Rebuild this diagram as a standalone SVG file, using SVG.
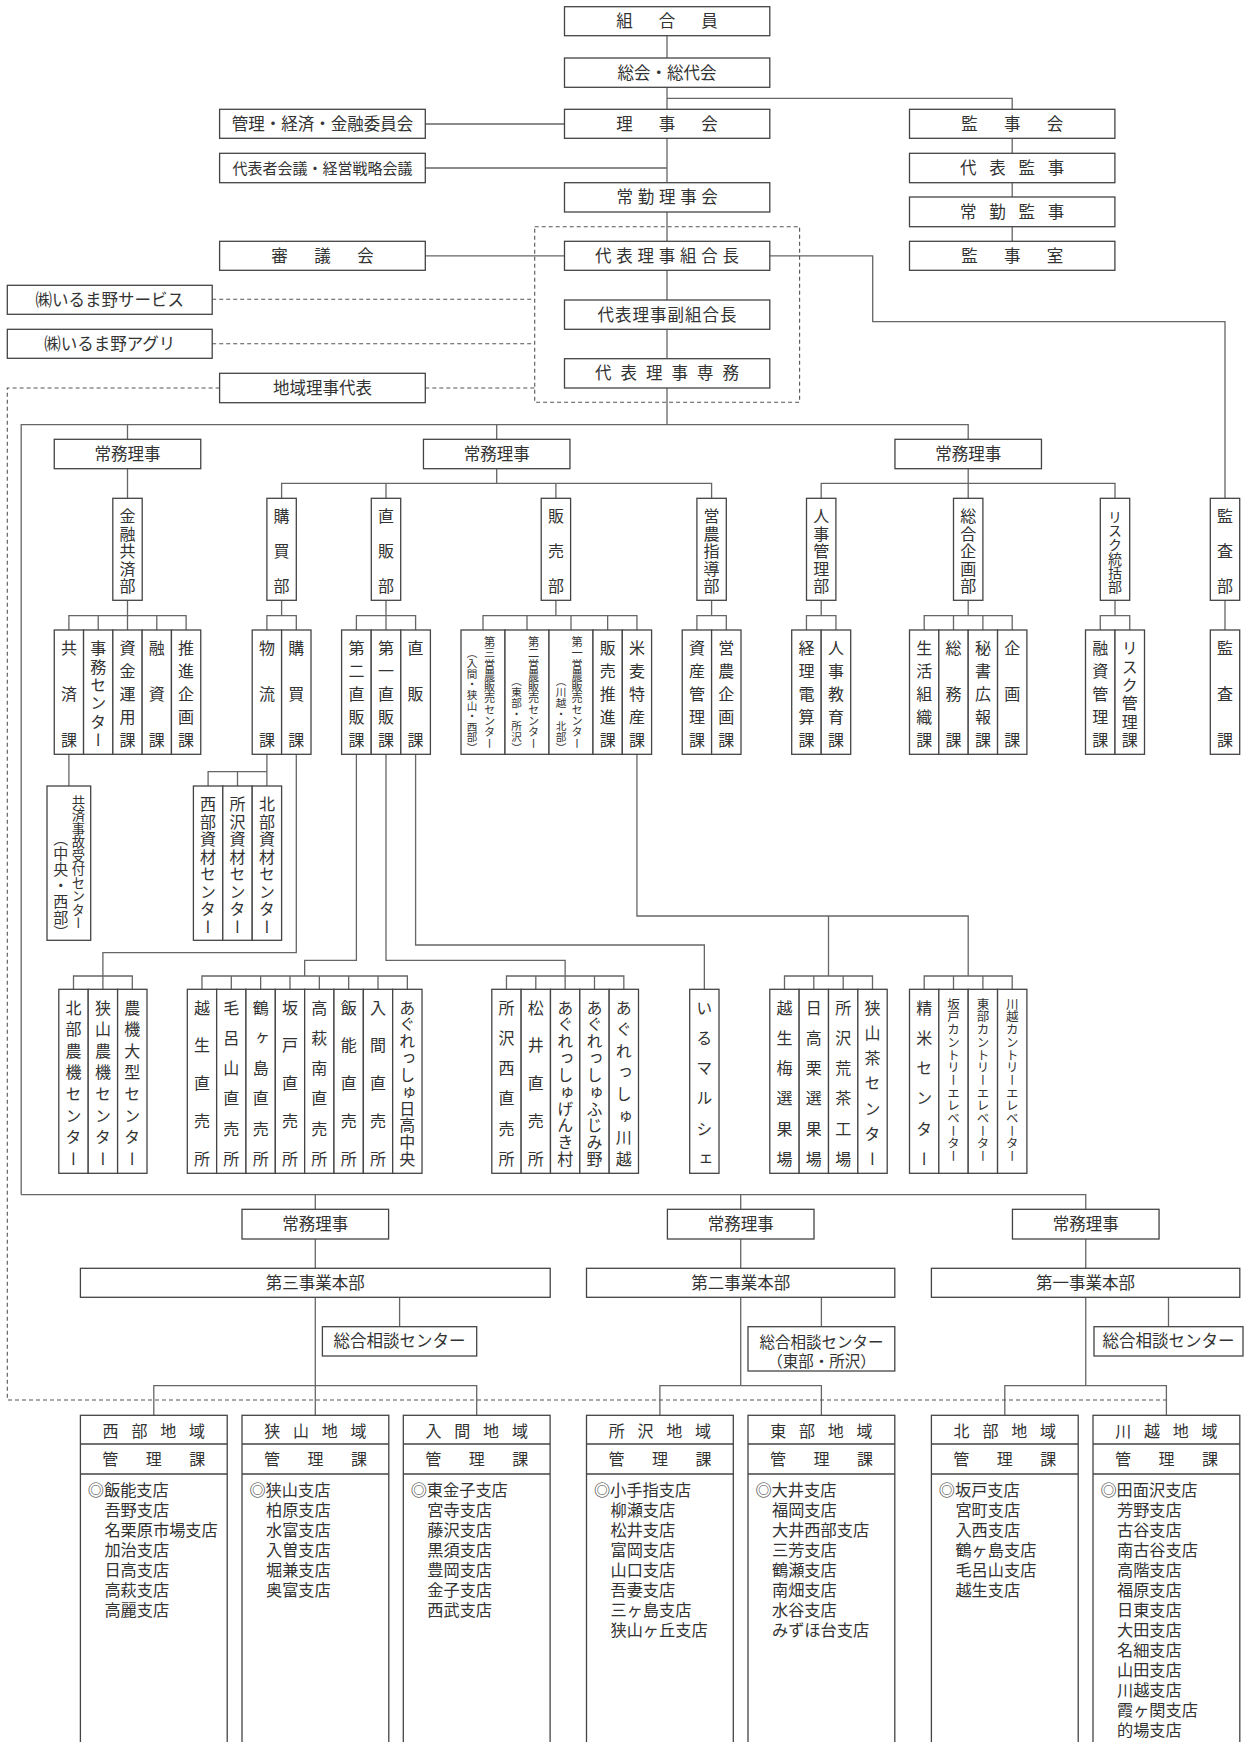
<svg xmlns="http://www.w3.org/2000/svg" width="1248" height="1742" viewBox="0 0 1248 1742">
<style>
.b{fill:#fff;stroke:#444;stroke-width:1.3}
.c{fill:none;stroke:#666;stroke-width:1.3}
.d{fill:none;stroke:#555;stroke-width:1.1;stroke-dasharray:4 3}
text{font-family:"Noto Sans CJK JP","Noto Sans",sans-serif;fill:#333}
.t{font-size:16.5px;text-anchor:middle}
.t2{font-size:15.5px;text-anchor:middle}
.s{font-size:15px;text-anchor:middle}
.h{font-size:16px;text-anchor:middle}
.l{font-size:16.2px}
.v{font-size:16px;writing-mode:vertical-rl;text-anchor:middle}
.v14{font-size:14px;writing-mode:vertical-rl;text-anchor:middle}
.v13{font-size:13.3px;writing-mode:vertical-rl;text-anchor:middle}
.v15{font-size:15px;writing-mode:vertical-rl;text-anchor:middle}
.v12{font-size:11.2px;writing-mode:vertical-rl;text-anchor:middle}
.v11{font-size:10.6px;writing-mode:vertical-rl;text-anchor:middle}
.vc{font-size:12.5px;writing-mode:vertical-rl;text-anchor:middle}
</style>
<rect x="0" y="0" width="1248" height="1742" fill="#fff"/>
<g id="connectors">
<path class="c" d="M667,35.7V58M667,87.3V109.3M667,98.3H1012.2V109.3M667,138.3V182.7M425.3,124H564.5M425.3,168H667M667,212V241.3M425.3,255.8H564.5M667,270.3V300M667,329.3V358.7M1012.2,138.3V153.3M1012.2,182.7V197M1012.2,226.7V241.3M769.8,255.8H872.7V321.7H1225V498.3M667,388V424.7M21.2,1194.7V424.7H968.2V439.3M127.5,424.7V439.3M496.7,424.7V439.3"/>
<path class="c" d="M127.5,468.7V498.3M496.7,468.7V483.3M281.6,498.3V483.3H711.6V498.3M386,483.3V498.3M555.9,483.3V498.3M968.2,468.7V498.3M821.2,498.3V483.3H1115V498.3"/>
<path class="c" d="M127.5,600.3V630M68.9,630V615.7H186.1V630M98.2,615.7V630M156.8,615.7V630M281.6,600.3V615.7M266.9,630V615.7H296.3V630M386,600.3V630M356.4,630V615.7H415.6V630M555.9,600.3V615.7M483,630V615.7H636.95V630M527,615.7V630M571,615.7V630M607.65,615.7V630M711.6,600.3V615.7M696.9,630V615.7H726.3V630M821.2,600.3V615.7M806.45,630V615.7H835.95V630M968.2,600.3V615.7M924.2,630V615.7H1012.2V630M953.5,615.7V630M982.9,615.7V630M1115,600.3V615.7M1100.25,630V615.7H1129.75V630M1225,600.3V630"/>
<path class="c" d="M68.9,754.3V786M266.9,754.3V786M208.1,786V771.7H266.9M237.5,771.7V786M296.3,754.3V952.7H102.9V989.3M73.5,989.3V976H132.3V989.3M356.4,754.3V960.3H304.66V976M201.97,989.3V976H407.35V989.3M231.31,976V989.3M260.65,976V989.3M289.99,976V989.3M319.33,976V989.3M348.67,976V989.3M378.01,976V989.3M386,754.3V960.3H565.15V989.3M506.47,989.3V976H623.83V989.3M535.81,976V989.3M594.49,976V989.3M415.6,754.3V945H704.35V989.3M636.95,754.3V916H968.2V976M828.5,916V976M784.5,989.3V976H872.5V989.3M813.8,976V989.3M843.2,976V989.3M924.2,989.3V976H1012.2V989.3M953.5,976V989.3M982.9,976V989.3"/>
<path class="c" d="M21.2,1194.7H1085.75V1209.3M315.3,1194.7V1209.3M740.7,1194.7V1209.3M315.3,1239V1268.3M740.7,1239V1268.3M1085.75,1239V1268.3M315.3,1297.3V1415.3M399.6,1297.3V1326.7M153.8,1415.3V1385.7H476.7V1415.3M740.7,1297.3V1385.7M821.4,1297.3V1326.7M659.9,1415.3V1385.7H821.4V1415.3M1085.75,1297.3V1385.7M1168.5,1297.3V1326.7M1004.8,1415.3V1385.7H1166.4V1415.3"/>
<path class="d" d="M212.2,299.3H534.7M212.2,343.7H534.7M425.3,388H534.7M219.6,388H7.3V1400H1166.4"/>
<rect class="d" x="534.7" y="226.7" width="264.9" height="175.6"/>
</g>
<g id="n-kumiaiin"><rect class="b" x="564.5" y="6.7" width="205.3" height="29"/><text class="t" x="624.5 667 709.5" y="27.2">組合員</text></g>
<g id="n-sokai"><rect class="b" x="564.5" y="58" width="205.3" height="29.3"/><text class="t" x="667" y="78.6">総会・総代会</text></g>
<g id="n-rijikai"><rect class="b" x="564.5" y="109.3" width="205.3" height="29"/><text class="t" x="624.5 667 709.5" y="129.8">理事会</text></g>
<g id="n-iinkai"><rect class="b" x="219.6" y="109.3" width="205.7" height="29"/><text class="t" x="322.5" y="129.8">管理・経済・金融委員会</text></g>
<g id="n-daihyosha"><rect class="b" x="219.6" y="153.3" width="205.7" height="29.4"/><text class="s" x="322.5" y="173.5">代表者会議・経営戦略会議</text></g>
<g id="n-jokinrijikai"><rect class="b" x="564.5" y="182.7" width="205.3" height="29.3"/><text class="t" x="624.8 646 667.2 688.4 709.6" y="203.3">常勤理事会</text></g>
<g id="n-shingikai"><rect class="b" x="219.6" y="241.3" width="205.7" height="29"/><text class="t" x="279.6 322.5 365.4" y="261.8">審議会</text></g>
<g id="n-kumiaicho"><rect class="b" x="564.5" y="241.3" width="205.3" height="29"/><text class="t" x="603.25 624.5 645.75 667 688.25 709.5 730.75" y="261.8">代表理事組合長</text></g>
<g id="n-service"><rect class="b" x="7.3" y="285.3" width="204.9" height="29"/><text class="t" x="109.75" y="305.8">㈱いるま野サービス</text></g>
<g id="n-fukukumiaicho"><rect class="b" x="564.5" y="300" width="205.3" height="29.3"/><text class="t" x="605.75 623.25 640.75 658.25 675.75 693.25 710.75 728.25" y="320.6">代表理事副組合長</text></g>
<g id="n-agri"><rect class="b" x="7.3" y="329.3" width="204.9" height="29"/><text class="t" x="109.75" y="349.8">㈱いるま野アグリ</text></g>
<g id="n-senmu"><rect class="b" x="564.5" y="358.7" width="205.3" height="29.3"/><text class="t" x="603.25 628.75 654.25 679.75 705.25 730.75" y="379.3">代表理事専務</text></g>
<g id="n-chiiki"><rect class="b" x="219.6" y="373.3" width="205.7" height="29.4"/><text class="t" x="322.5" y="394">地域理事代表</text></g>
<g id="n-kanjikai"><rect class="b" x="909.5" y="109.3" width="205.4" height="29"/><text class="t" x="969.5 1012.2 1054.9" y="129.8">監事会</text></g>
<g id="n-daihyokanji"><rect class="b" x="909.5" y="153.3" width="205.4" height="29.4"/><text class="t" x="968.2 997.5 1026.8 1056.1" y="174">代表監事</text></g>
<g id="n-jokinkanji"><rect class="b" x="909.5" y="197" width="205.4" height="29.7"/><text class="t" x="968.2 997.5 1026.8 1056.1" y="217.8">常勤監事</text></g>
<g id="n-kanjishitsu"><rect class="b" x="909.5" y="241.3" width="205.4" height="29"/><text class="t" x="969.5 1012.2 1054.9" y="261.8">監事室</text></g>

<g id="n-jomu1"><rect class="b" x="54.25" y="439.3" width="146.5" height="29.4"/><text class="t" x="127.5" y="460">常務理事</text></g>
<g id="n-jomu2"><rect class="b" x="423.45" y="439.3" width="146.5" height="29.4"/><text class="t" x="496.7" y="460">常務理事</text></g>
<g id="n-jomu3"><rect class="b" x="894.95" y="439.3" width="146.5" height="29.4"/><text class="t" x="968.2" y="460">常務理事</text></g>

<g id="n-kinyu"><rect class="b" x="112.8" y="498.3" width="29.4" height="102"/><text class="v" x="127.5" y="516.3 533.8 551.3 568.8 586.3">金融共済部</text></g>
<g id="n-kobai"><rect class="b" x="266.9" y="498.3" width="29.4" height="102"/><text class="v" x="281.6" y="516.3 551.3 586.3">購買部</text></g>
<g id="n-chokuhan"><rect class="b" x="371.3" y="498.3" width="29.4" height="102"/><text class="v" x="386" y="516.3 551.3 586.3">直販部</text></g>
<g id="n-hanbai"><rect class="b" x="541.2" y="498.3" width="29.4" height="102"/><text class="v" x="555.9" y="516.3 551.3 586.3">販売部</text></g>
<g id="n-einoshido"><rect class="b" x="696.9" y="498.3" width="29.4" height="102"/><text class="v" x="711.6" y="516.3 533.8 551.3 568.8 586.3">営農指導部</text></g>
<g id="n-jinji"><rect class="b" x="806.5" y="498.3" width="29.4" height="102"/><text class="v" x="821.2" y="516.3 533.8 551.3 568.8 586.3">人事管理部</text></g>
<g id="n-sogokikaku"><rect class="b" x="953.5" y="498.3" width="29.4" height="102"/><text class="v" x="968.2" y="516.3 533.8 551.3 568.8 586.3">総合企画部</text></g>
<g id="n-risk"><rect class="b" x="1100.3" y="498.3" width="29.4" height="102"/><text class="v14" x="1115" y="516.3 530.3 544.3 558.3 572.3 586.3">リスク統括部</text></g>
<g id="n-kansabu"><rect class="b" x="1210.3" y="498.3" width="29.4" height="102"/><text class="v" x="1225" y="516.3 551.3 586.3">監査部</text></g>

<g id="n-sec-kinyu">
<rect class="b" x="54.25" y="630" width="29.3" height="124.3"/><text class="v" x="68.9" y="648 694.2 740.3">共済課</text>
<rect class="b" x="83.55" y="630" width="29.3" height="124.3"/><text class="v" x="98.2" y="648 666.5 684.9 703.4 721.8 740.3">事務センター</text>
<rect class="b" x="112.85" y="630" width="29.3" height="124.3"/><text class="v" x="127.5" y="648 671.1 694.2 717.2 740.3">資金運用課</text>
<rect class="b" x="142.15" y="630" width="29.3" height="124.3"/><text class="v" x="156.8" y="648 694.2 740.3">融資課</text>
<rect class="b" x="171.45" y="630" width="29.3" height="124.3"/><text class="v" x="186.1" y="648 671.1 694.2 717.2 740.3">推進企画課</text>
</g>
<g id="n-sec-kobai">
<rect class="b" x="252.2" y="630" width="29.4" height="124.3"/><text class="v" x="266.9" y="648 694.2 740.3">物流課</text>
<rect class="b" x="281.6" y="630" width="29.4" height="124.3"/><text class="v" x="296.3" y="648 694.2 740.3">購買課</text>
</g>
<g id="n-sec-chokuhan">
<rect class="b" x="341.6" y="630" width="29.6" height="124.3"/><text class="v" x="356.4" y="648 671.1 694.2 717.2 740.3">第二直販課</text>
<rect class="b" x="371.2" y="630" width="29.6" height="124.3"/><text class="v" x="386" y="648 671.1 694.2 717.2 740.3">第一直販課</text>
<rect class="b" x="400.8" y="630" width="29.6" height="124.3"/><text class="v" x="415.6" y="648 694.2 740.3">直販課</text>
</g>
<g id="n-sec-hanbai">
<rect class="b" x="461" y="630" width="44" height="124.3"/>
<text class="v12" x="489.5" y="641.7 653 664.3 675.6 686.9 698.2 709.5 720.8 732.1 743.4">第三営農販売センター</text>
<text class="v11" x="472" y="652.5 663.1 673.7 684.3 694.9 705.5 716.1 726.7 737.3 747.9">（入間・狭山・西部）</text>
<rect class="b" x="505" y="630" width="44" height="124.3"/>
<text class="v12" x="533.5" y="641.7 653 664.3 675.6 686.9 698.2 709.5 720.8 732.1 743.4">第二営農販売センター</text>
<text class="v11" x="516.5" y="680.5 691.75 703 714.25 725.5 736.75 748">（東部・所沢）</text>
<rect class="b" x="549" y="630" width="44" height="124.3"/>
<text class="v12" x="577" y="641.7 653 664.3 675.6 686.9 698.2 709.5 720.8 732.1 743.4">第一営農販売センター</text>
<text class="v11" x="561" y="680.5 691.75 703 714.25 725.5 736.75 748">（川越・北部）</text>
<rect class="b" x="593" y="630" width="29.3" height="124.3"/><text class="v" x="607.65" y="648 671.1 694.2 717.2 740.3">販売推進課</text>
<rect class="b" x="622.3" y="630" width="29.3" height="124.3"/><text class="v" x="636.95" y="648 671.1 694.2 717.2 740.3">米麦特産課</text>
</g>
<g id="n-sec-einoshido">
<rect class="b" x="682.2" y="630" width="29.4" height="124.3"/><text class="v" x="696.9" y="648 671.1 694.2 717.2 740.3">資産管理課</text>
<rect class="b" x="711.6" y="630" width="29.4" height="124.3"/><text class="v" x="726.3" y="648 671.1 694.2 717.2 740.3">営農企画課</text>
</g>
<g id="n-sec-jinji">
<rect class="b" x="791.7" y="630" width="29.5" height="124.3"/><text class="v" x="806.45" y="648 671.1 694.2 717.2 740.3">経理電算課</text>
<rect class="b" x="821.2" y="630" width="29.5" height="124.3"/><text class="v" x="835.95" y="648 671.1 694.2 717.2 740.3">人事教育課</text>
</g>
<g id="n-sec-sogokikaku">
<rect class="b" x="909.5" y="630" width="29.35" height="124.3"/><text class="v" x="924.2" y="648 671.1 694.2 717.2 740.3">生活組織課</text>
<rect class="b" x="938.85" y="630" width="29.35" height="124.3"/><text class="v" x="953.5" y="648 694.2 740.3">総務課</text>
<rect class="b" x="968.2" y="630" width="29.35" height="124.3"/><text class="v" x="982.9" y="648 671.1 694.2 717.2 740.3">秘書広報課</text>
<rect class="b" x="997.55" y="630" width="29.35" height="124.3"/><text class="v" x="1012.2" y="648 694.2 740.3">企画課</text>
</g>
<g id="n-sec-risk">
<rect class="b" x="1085.5" y="630" width="29.5" height="124.3"/><text class="v" x="1100.25" y="648 671.1 694.2 717.2 740.3">融資管理課</text>
<rect class="b" x="1115" y="630" width="29.5" height="124.3"/><text class="v" x="1129.75" y="648 666.5 684.9 703.4 721.8 740.3">リスク管理課</text>
</g>
<g id="n-sec-kansa">
<rect class="b" x="1210.3" y="630" width="29.4" height="124.3"/><text class="v" x="1225" y="648 694.2 740.3">監査課</text>
</g>

<g id="n-kyosaijiko">
<rect class="b" x="47" y="786" width="43.7" height="154.3"/>
<text class="v13" x="78.3" y="801.7 815.2 828.7 842.2 855.7 869.2 882.7 896.2 909.7 923.2">共済事故受付センター</text>
<text class="v15" x="60.7" y="838 853.8 869.6 885.4 901.2 917 932.8">（中央・西部）</text>
</g>
<g id="n-shizai">
<rect class="b" x="193.4" y="786" width="29.4" height="154.3"/><text class="v" x="208.1" y="804 821.6 839.1 856.7 874.3 891.9 909.4 927">西部資材センター</text>
<rect class="b" x="222.8" y="786" width="29.4" height="154.3"/><text class="v" x="237.5" y="804 821.6 839.1 856.7 874.3 891.9 909.4 927">所沢資材センター</text>
<rect class="b" x="252.2" y="786" width="29.4" height="154.3"/><text class="v" x="266.9" y="804 821.6 839.1 856.7 874.3 891.9 909.4 927">北部資材センター</text>
</g>

<g id="n-noki">
<rect class="b" x="58.8" y="989.3" width="29.4" height="184"/><text class="v" x="73.5" y="1007.5 1029.1 1050.8 1072.4 1094.1 1115.7 1137.4 1159">北部農機センター</text>
<rect class="b" x="88.2" y="989.3" width="29.4" height="184"/><text class="v" x="102.9" y="1007.5 1029.1 1050.8 1072.4 1094.1 1115.7 1137.4 1159">狭山農機センター</text>
<rect class="b" x="117.6" y="989.3" width="29.4" height="184"/><text class="v" x="132.3" y="1007.5 1029.1 1050.8 1072.4 1094.1 1115.7 1137.4 1159">農機大型センター</text>
</g>
<g id="n-chokubai2">
<rect class="b" x="187.3" y="989.3" width="29.34" height="184"/><text class="v" x="201.97" y="1007.5 1045.4 1083.3 1121.1 1159">越生直売所</text>
<rect class="b" x="216.64" y="989.3" width="29.34" height="184"/><text class="v" x="231.31" y="1007.5 1037.8 1068.1 1098.4 1128.7 1159">毛呂山直売所</text>
<rect class="b" x="245.98" y="989.3" width="29.34" height="184"/><text class="v" x="260.65" y="1007.5 1037.8 1068.1 1098.4 1128.7 1159">鶴ヶ島直売所</text>
<rect class="b" x="275.32" y="989.3" width="29.34" height="184"/><text class="v" x="289.99" y="1007.5 1045.4 1083.3 1121.1 1159">坂戸直売所</text>
<rect class="b" x="304.66" y="989.3" width="29.34" height="184"/><text class="v" x="319.33" y="1007.5 1037.8 1068.1 1098.4 1128.7 1159">高萩南直売所</text>
<rect class="b" x="334" y="989.3" width="29.34" height="184"/><text class="v" x="348.67" y="1007.5 1045.4 1083.3 1121.1 1159">飯能直売所</text>
<rect class="b" x="363.34" y="989.3" width="29.34" height="184"/><text class="v" x="378.01" y="1007.5 1045.4 1083.3 1121.1 1159">入間直売所</text>
<rect class="b" x="392.68" y="989.3" width="29.34" height="184"/><text class="v" x="407.35" y="1007.5 1024.3 1041.2 1058 1074.8 1091.7 1108.5 1125.3 1142.2 1159">あぐれっしゅ日高中央</text>
</g>
<g id="n-chokubai1">
<rect class="b" x="491.8" y="989.3" width="29.34" height="184"/><text class="v" x="506.47" y="1007.5 1037.8 1068.1 1098.4 1128.7 1159">所沢西直売所</text>
<rect class="b" x="521.14" y="989.3" width="29.34" height="184"/><text class="v" x="535.81" y="1007.5 1045.4 1083.3 1121.1 1159">松井直売所</text>
<rect class="b" x="550.48" y="989.3" width="29.34" height="184"/><text class="v" x="565.15" y="1007.5 1024.3 1041.2 1058 1074.8 1091.7 1108.5 1125.3 1142.2 1159">あぐれっしゅげんき村</text>
<rect class="b" x="579.82" y="989.3" width="29.34" height="184"/><text class="v" x="594.49" y="1007.5 1024.3 1041.2 1058 1074.8 1091.7 1108.5 1125.3 1142.2 1159">あぐれっしゅふじみ野</text>
<rect class="b" x="609.16" y="989.3" width="29.34" height="184"/><text class="v" x="623.83" y="1007.5 1029.1 1050.8 1072.4 1094.1 1115.7 1137.4 1159">あぐれっしゅ川越</text>
</g>
<g id="n-irumarche">
<rect class="b" x="689.7" y="989.3" width="29.3" height="184"/><text class="v" x="704.35" y="1007.5 1037.8 1068.1 1098.4 1128.7 1159">いるマルシェ</text>
</g>
<g id="n-senkajo">
<rect class="b" x="769.8" y="989.3" width="29.35" height="184"/><text class="v" x="784.5" y="1007.5 1037.8 1068.1 1098.4 1128.7 1159">越生梅選果場</text>
<rect class="b" x="799.15" y="989.3" width="29.35" height="184"/><text class="v" x="813.8" y="1007.5 1037.8 1068.1 1098.4 1128.7 1159">日高栗選果場</text>
<rect class="b" x="828.5" y="989.3" width="29.35" height="184"/><text class="v" x="843.2" y="1007.5 1037.8 1068.1 1098.4 1128.7 1159">所沢荒茶工場</text>
<rect class="b" x="857.85" y="989.3" width="29.35" height="184"/><text class="v" x="872.5" y="1007.5 1032.75 1058 1083.25 1108.5 1133.75 1159">狭山茶センター</text>
</g>
<g id="n-seimai">
<rect class="b" x="909.5" y="989.3" width="29.35" height="184"/><text class="v" x="924.2" y="1007.5 1037.8 1068.1 1098.4 1128.7 1159">精米センター</text>
<rect class="b" x="938.85" y="989.3" width="29.35" height="184"/><text class="vc" x="953.5" y="1004 1016.7 1029.4 1042.1 1054.8 1067.5 1080.2 1092.9 1105.6 1118.3 1131 1143.7 1156.4">坂戸カントリーエレベーター</text>
<rect class="b" x="968.2" y="989.3" width="29.35" height="184"/><text class="vc" x="982.9" y="1004 1016.7 1029.4 1042.1 1054.8 1067.5 1080.2 1092.9 1105.6 1118.3 1131 1143.7 1156.4">東部カントリーエレベーター</text>
<rect class="b" x="997.55" y="989.3" width="29.35" height="184"/><text class="vc" x="1012.2" y="1004 1016.7 1029.4 1042.1 1054.8 1067.5 1080.2 1092.9 1105.6 1118.3 1131 1143.7 1156.4">川越カントリーエレベーター</text>
</g>

<g id="n-jomu4"><rect class="b" x="242" y="1209.3" width="146.6" height="29.7"/><text class="t" x="315.3" y="1230.2">常務理事</text></g>
<g id="n-jomu5"><rect class="b" x="667.4" y="1209.3" width="146.6" height="29.7"/><text class="t" x="740.7" y="1230.2">常務理事</text></g>
<g id="n-jomu6"><rect class="b" x="1012.45" y="1209.3" width="146.6" height="29.7"/><text class="t" x="1085.75" y="1230.2">常務理事</text></g>
<g id="n-honbu3"><rect class="b" x="80.4" y="1268.3" width="469.8" height="29"/><text class="t" x="315.3" y="1288.8">第三事業本部</text></g>
<g id="n-honbu2"><rect class="b" x="586.5" y="1268.3" width="308.3" height="29"/><text class="t" x="740.7" y="1288.8">第二事業本部</text></g>
<g id="n-honbu1"><rect class="b" x="931.4" y="1268.3" width="308.4" height="29"/><text class="t" x="1085.6" y="1288.8">第一事業本部</text></g>
<g id="n-sodan3"><rect class="b" x="322.4" y="1326.7" width="154.3" height="29.3"/><text class="t" x="399.55" y="1347.3">総合相談センター</text></g>
<g id="n-sodan2"><rect class="b" x="748" y="1326.7" width="146.8" height="44.3"/><text class="t2" x="821.4" y="1347.8">総合相談センター</text><text class="t2" x="821.4" y="1366.6">（東部・所沢）</text></g>
<g id="n-sodan1"><rect class="b" x="1094" y="1326.7" width="149" height="29.3"/><text class="t" x="1168.5" y="1347.3">総合相談センター</text></g>

<g id="n-seibu">
<rect class="b" x="80.4" y="1415.3" width="146.8" height="340"/><path class="c" d="M80.4,1444H227.2M80.4,1474H227.2" style="stroke:#444"/>
<text class="h" x="110.6 139.4 168.2 197" y="1436.5">西部地域</text>
<text class="h" x="110.3 153.8 197.3" y="1465.3">管理課</text>
<text class="l"><tspan x="87.8" y="1496">◎飯能支店</tspan><tspan x="104.4" y="1516">吾野支店</tspan><tspan x="104.4" y="1536">名栗原市場支店</tspan><tspan x="104.4" y="1556">加治支店</tspan><tspan x="104.4" y="1576">日高支店</tspan><tspan x="104.4" y="1596">高萩支店</tspan><tspan x="104.4" y="1616">高麗支店</tspan></text>
</g>
<g id="n-sayama">
<rect class="b" x="242" y="1415.3" width="146.8" height="340"/><path class="c" d="M242,1444H388.8M242,1474H388.8" style="stroke:#444"/>
<text class="h" x="272.2 301 329.8 358.6" y="1436.5">狭山地域</text>
<text class="h" x="271.9 315.4 358.9" y="1465.3">管理課</text>
<text class="l"><tspan x="249.4" y="1496">◎狭山支店</tspan><tspan x="266" y="1516">柏原支店</tspan><tspan x="266" y="1536">水富支店</tspan><tspan x="266" y="1556">入曽支店</tspan><tspan x="266" y="1576">堀兼支店</tspan><tspan x="266" y="1596">奥富支店</tspan></text>
</g>
<g id="n-iruma">
<rect class="b" x="403.3" y="1415.3" width="146.8" height="340"/><path class="c" d="M403.3,1444H550.1M403.3,1474H550.1" style="stroke:#444"/>
<text class="h" x="433.5 462.3 491.1 519.9" y="1436.5">入間地域</text>
<text class="h" x="433.2 476.7 520.2" y="1465.3">管理課</text>
<text class="l"><tspan x="410.7" y="1496">◎東金子支店</tspan><tspan x="427.3" y="1516">宮寺支店</tspan><tspan x="427.3" y="1536">藤沢支店</tspan><tspan x="427.3" y="1556">黒須支店</tspan><tspan x="427.3" y="1576">豊岡支店</tspan><tspan x="427.3" y="1596">金子支店</tspan><tspan x="427.3" y="1616">西武支店</tspan></text>
</g>
<g id="n-tokorozawa">
<rect class="b" x="586.5" y="1415.3" width="146.8" height="340"/><path class="c" d="M586.5,1444H733.3M586.5,1474H733.3" style="stroke:#444"/>
<text class="h" x="616.7 645.5 674.3 703.1" y="1436.5">所沢地域</text>
<text class="h" x="616.4 659.9 703.4" y="1465.3">管理課</text>
<text class="l"><tspan x="593.9" y="1496">◎小手指支店</tspan><tspan x="610.5" y="1516">柳瀬支店</tspan><tspan x="610.5" y="1536">松井支店</tspan><tspan x="610.5" y="1556">富岡支店</tspan><tspan x="610.5" y="1576">山口支店</tspan><tspan x="610.5" y="1596">吾妻支店</tspan><tspan x="610.5" y="1616">三ヶ島支店</tspan><tspan x="610.5" y="1636">狭山ヶ丘支店</tspan></text>
</g>
<g id="n-tobu">
<rect class="b" x="748" y="1415.3" width="146.8" height="340"/><path class="c" d="M748,1444H894.8M748,1474H894.8" style="stroke:#444"/>
<text class="h" x="778.2 807 835.8 864.6" y="1436.5">東部地域</text>
<text class="h" x="777.9 821.4 864.9" y="1465.3">管理課</text>
<text class="l"><tspan x="755.4" y="1496">◎大井支店</tspan><tspan x="772" y="1516">福岡支店</tspan><tspan x="772" y="1536">大井西部支店</tspan><tspan x="772" y="1556">三芳支店</tspan><tspan x="772" y="1576">鶴瀬支店</tspan><tspan x="772" y="1596">南畑支店</tspan><tspan x="772" y="1616">水谷支店</tspan><tspan x="772" y="1636">みずほ台支店</tspan></text>
</g>
<g id="n-hokubu">
<rect class="b" x="931.4" y="1415.3" width="146.8" height="340"/><path class="c" d="M931.4,1444H1078.2M931.4,1474H1078.2" style="stroke:#444"/>
<text class="h" x="961.6 990.4 1019.2 1048" y="1436.5">北部地域</text>
<text class="h" x="961.3 1004.8 1048.3" y="1465.3">管理課</text>
<text class="l"><tspan x="938.8" y="1496">◎坂戸支店</tspan><tspan x="955.4" y="1516">宮町支店</tspan><tspan x="955.4" y="1536">入西支店</tspan><tspan x="955.4" y="1556">鶴ヶ島支店</tspan><tspan x="955.4" y="1576">毛呂山支店</tspan><tspan x="955.4" y="1596">越生支店</tspan></text>
</g>
<g id="n-kawagoe">
<rect class="b" x="1093" y="1415.3" width="146.8" height="340"/><path class="c" d="M1093,1444H1239.8M1093,1474H1239.8" style="stroke:#444"/>
<text class="h" x="1123.2 1152 1180.8 1209.6" y="1436.5">川越地域</text>
<text class="h" x="1122.9 1166.4 1209.9" y="1465.3">管理課</text>
<text class="l"><tspan x="1100.4" y="1496">◎田面沢支店</tspan><tspan x="1117" y="1516">芳野支店</tspan><tspan x="1117" y="1536">古谷支店</tspan><tspan x="1117" y="1556">南古谷支店</tspan><tspan x="1117" y="1576">高階支店</tspan><tspan x="1117" y="1596">福原支店</tspan><tspan x="1117" y="1616">日東支店</tspan><tspan x="1117" y="1636">大田支店</tspan><tspan x="1117" y="1656">名細支店</tspan><tspan x="1117" y="1676">山田支店</tspan><tspan x="1117" y="1696">川越支店</tspan><tspan x="1117" y="1716">霞ヶ関支店</tspan><tspan x="1117" y="1736">的場支店</tspan></text>
</g>
</svg>
